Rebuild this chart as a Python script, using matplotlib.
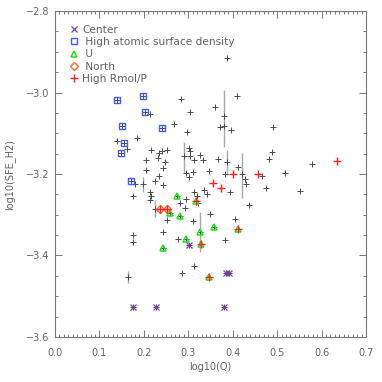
import matplotlib
matplotlib.use("Agg")
import matplotlib.pyplot as plt
from matplotlib.ticker import MultipleLocator, FormatStrFormatter, FuncFormatter

# ---- data ----
q_other = [0.284, 0.361, 0.304, 0.213, 0.268, 0.298, 0.139, 0.184, 0.163, 0.215,
           0.235, 0.240, 0.253, 0.232, 0.248, 0.204, 0.302, 0.305, 0.290, 0.305,
           0.313, 0.326, 0.333, 0.368, 0.388, 0.412, 0.422, 0.428, 0.429, 0.466,
           0.382, 0.394, 0.475, 0.518, 0.488, 0.481, 0.491, 0.578, 0.551, 0.388,
           0.409, 0.381, 0.371, 0.381, 0.397, 0.347, 0.296, 0.310, 0.301, 0.336,
           0.343, 0.314, 0.320, 0.296, 0.323, 0.281, 0.293, 0.437, 0.350, 0.311,
           0.406, 0.383, 0.286, 0.314, 0.204, 0.244, 0.234, 0.226, 0.242, 0.199,
           0.179, 0.214, 0.216, 0.214, 0.176, 0.224, 0.253, 0.244, 0.176, 0.175,
           0.278, 0.165]
sfe_other = [-3.017, -3.036, -3.047, -3.053, -3.077, -3.098, -3.118, -3.112, -3.139, -3.140,
             -3.148, -3.144, -3.142, -3.161, -3.170, -3.166, -3.137, -3.144, -3.156, -3.156,
             -3.166, -3.153, -3.166, -3.162, -3.171, -3.184, -3.200, -3.213, -3.225, -3.206,
             -3.201, -3.245, -3.234, -3.198, -3.146, -3.162, -3.085, -3.175, -3.241, -2.914,
             -3.008, -3.058, -3.084, -3.082, -3.092, -3.192, -3.197, -3.196, -3.207, -3.240,
             -3.248, -3.245, -3.255, -3.262, -3.270, -3.272, -3.284, -3.277, -3.297, -3.315,
             -3.311, -3.361, -3.443, -3.427, -3.190, -3.186, -3.205, -3.217, -3.228, -3.225,
             -3.225, -3.245, -3.255, -3.265, -3.255, -3.286, -3.313, -3.342, -3.350, -3.367,
             -3.360, -3.452]

q_center = [0.176, 0.228, 0.302, 0.385, 0.392, 0.381]
sfe_center = [-3.526, -3.526, -3.375, -3.444, -3.444, -3.526]

q_hiatom = [0.139, 0.199, 0.202, 0.151, 0.240, 0.156, 0.148, 0.170]
sfe_hiatom = [-3.018, -3.009, -3.047, -3.082, -3.087, -3.125, -3.149, -3.216]

q_u = [0.274, 0.259, 0.282, 0.317, 0.326, 0.359, 0.296, 0.244, 0.328, 0.413, 0.347]
sfe_u = [-3.255, -3.295, -3.303, -3.266, -3.342, -3.329, -3.360, -3.381, -3.373, -3.334, -3.453]

q_north = [0.236, 0.251]
sfe_north = [-3.287, -3.287]

q_rmol = [0.401, 0.458, 0.356, 0.374, 0.635, 0.317, 0.328, 0.413, 0.347, 0.236, 0.251]
sfe_rmol = [-3.201, -3.201, -3.223, -3.234, -3.169, -3.266, -3.373, -3.334, -3.453, -3.287, -3.287]

err_q = [0.290, 0.388, 0.422, 0.381, 0.199, 0.224, 0.165, 0.326]
err_lo = [-3.195, -3.203, -3.260, -3.134, -3.244, -3.306, -3.468, -3.391]
err_hi = [-3.121, -3.141, -3.148, -2.994, -3.207, -3.264, -3.437, -3.293]

legend_labels = ['Center', ' High atomic surface density', ' U', ' North', 'High Rmol/P']

# ---- figure ----
plt.rcParams['font.family'] = ['DejaVu Sans']
fig = plt.figure(figsize=(3.82, 3.82), dpi=100)
ax = fig.add_axes([0.144, 0.118, 0.814, 0.853])

txt = '#606060'

ax.vlines(err_q, err_lo, err_hi, color='#a8a8a8', lw=1.0, zorder=1)

all_q = q_other + q_center + q_hiatom + q_u + q_north + q_rmol
all_s = sfe_other + sfe_center + sfe_hiatom + sfe_u + sfe_north + sfe_rmol
ax.plot(all_q, all_s, ls='none', marker='+', ms=5, mew=0.7, color='#4a4a4a', zorder=2)

h1, = ax.plot(q_center, sfe_center, ls='none', marker='x', ms=4.0, mew=0.9,
              color='#7a3fa8', zorder=3, label=legend_labels[0])
h2, = ax.plot(q_hiatom, sfe_hiatom, ls='none', marker='s', ms=4.0, mew=1.0,
              mfc='none', mec='#3f5bff', zorder=3, label=legend_labels[1])
h3, = ax.plot(q_u, sfe_u, ls='none', marker='^', ms=4.3, mew=1.1,
              mfc='none', mec='#22e022', zorder=3, label=legend_labels[2])
h4, = ax.plot(q_north, sfe_north, ls='none', marker='D', ms=3.6, mew=1.0,
              mfc='none', mec='#ff6a2a', zorder=3, label=legend_labels[3])
h5, = ax.plot(q_rmol, sfe_rmol, ls='none', marker='+', ms=5.2, mew=1.0,
              color='#ff2020', zorder=4, label=legend_labels[4])

ax.set_xlim(0.0, 0.7)
ax.set_ylim(-3.6, -2.8)
ax.xaxis.set_major_locator(MultipleLocator(0.1))
ax.xaxis.set_minor_locator(MultipleLocator(0.01))
ax.yaxis.set_major_locator(MultipleLocator(0.2))
ax.yaxis.set_minor_locator(MultipleLocator(0.05))
ax.xaxis.set_major_formatter(FormatStrFormatter('%.1f'))
ax.yaxis.set_major_formatter(FuncFormatter(lambda v, p: ('%.1f' % v).replace('-', '\u2212')))

for s in ax.spines.values():
    s.set_color('#777777')
    s.set_linewidth(0.8)
ax.tick_params(which='both', direction='in', top=True, right=True,
               colors='#777777', labelcolor=txt, labelsize=7, width=0.7)
ax.tick_params(which='major', length=5)
ax.tick_params(which='minor', length=2.5)
ax.tick_params(axis='x', which='major', pad=8)
ax.tick_params(axis='y', which='major', pad=4)

ax.set_xlabel('log10(Q)', fontsize=7, color=txt, labelpad=3)
ax.set_ylabel('log10(SFE_H2)', fontsize=7, color=txt, labelpad=8)

leg = ax.legend(handles=[h1, h2, h3, h4, h5], loc='upper left',
                bbox_to_anchor=(0.052, 0.958), frameon=False, fontsize=7.6,
                handlelength=0.6, handletextpad=0.45, labelspacing=0.22,
                borderaxespad=0, borderpad=0, labelcolor=txt, numpoints=1)

fig.savefig('out.png', dpi=100)
